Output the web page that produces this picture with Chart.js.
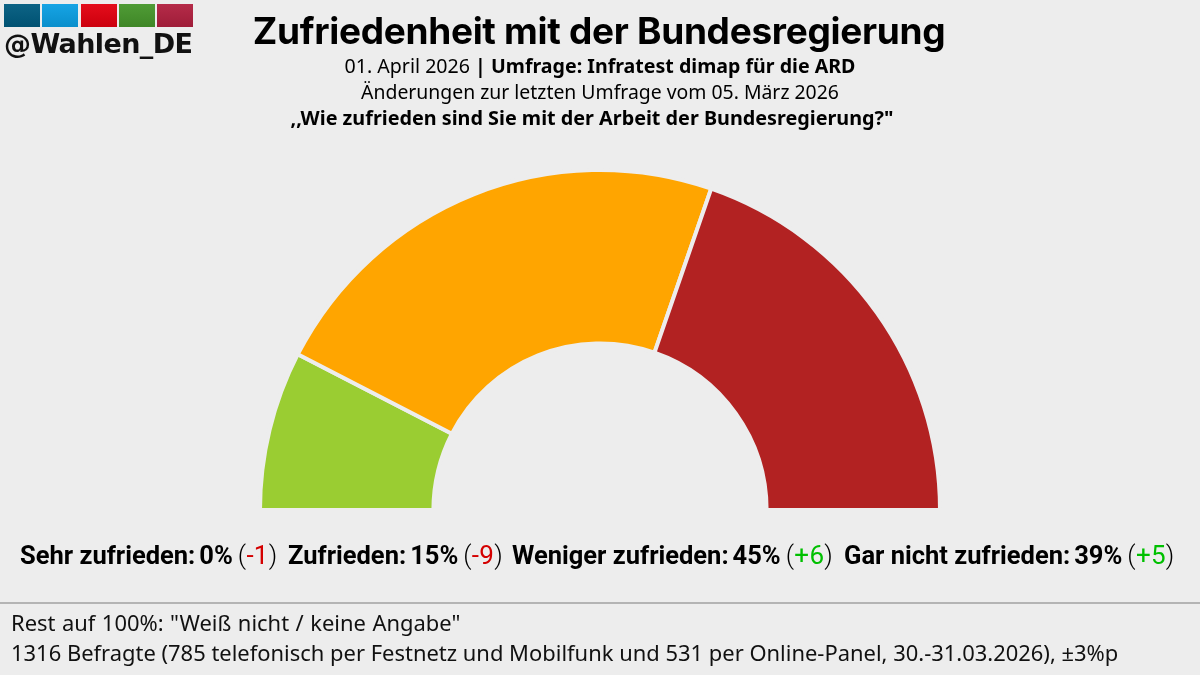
<!DOCTYPE html>
<html lang="de"><head><meta charset="utf-8">
<script src="https://cdn.jsdelivr.net/npm/chart.js@4"></script>
<style>
html,body{margin:0;padding:0;background:#ededed;width:1200px;height:675px;overflow:hidden}
#w{position:relative;width:1200px;height:675px}
canvas{position:absolute;left:0;top:0}
.t{position:absolute;left:0;width:1200px;text-align:center;white-space:nowrap;color:#000}
#title{top:9px;left:-1px;font:700 37px/44px Inter,sans-serif;letter-spacing:-.3px}
.s{font:400 19.6px/26px "Noto Sans",sans-serif}
.s b{font-weight:700}
#logo{position:absolute;left:4px;top:4px;display:flex;gap:2.25px}
#logo i{display:block;width:36px;height:23px;background-image:linear-gradient(rgba(255,255,255,.05),rgba(0,0,0,.1))}
#handle{position:absolute;left:4px;top:29px;font:700 27px/30px "DejaVu Sans",sans-serif;letter-spacing:-.6px;color:#111}
#legend{position:absolute;top:537px;left:20px;font:700 25.5px/36px Roboto,sans-serif;white-space:nowrap;color:#000}
#legend .e{position:absolute;top:0}
#legend .v{margin-left:4px}
#legend .d{font-weight:300;font-size:26px;letter-spacing:.3px;margin-left:5px}
#legend .d span{font-weight:400}
#rule{position:absolute;left:0;top:602px;width:1200px;height:2px;background:#b4b4b4}
#foot{position:absolute;left:11px;top:608px;font:400 21.95px/29.5px "Noto Sans",sans-serif;white-space:nowrap;color:#111}
</style></head><body>
<div id="w">
<canvas id="c" width="1200" height="675"></canvas>
<div id="logo"></div>
<div id="handle">@Wahlen_DE</div>
<div class="t" id="title">Zufriedenheit mit der Bundesregierung</div>
<div class="t s" style="top:53px">01. April 2026 <b>| Umfrage: Infratest dimap für die ARD</b></div>
<div class="t s" style="top:79px;font-size:19.4px">Änderungen zur letzten Umfrage vom 05. März 2026</div>
<div class="t s" style="top:105px;left:-8px;font-size:19.8px"><b>,,Wie zufrieden sind Sie mit der Arbeit der Bundesregierung?"</b></div>
<div id="legend"></div>
<div id="rule"></div>
<div id="foot"><span style="word-spacing:.8px">Rest auf 100%: "Weiß nicht / keine Angabe"</span><br>1316 Befragte (785 telefonisch per Festnetz und Mobilfunk und 531 per Online-Panel, 30.-31.03.2026), ±3%p</div>
</div>
<script>
const categories = ["Sehr zufrieden","Zufrieden","Weniger zufrieden","Gar nicht zufrieden"];
const values = [0,15,45,39];
const changes = [-1,-9,6,5];
const sliceColors = ["#006400","#9acd32","#ffa500","#b22222"];
const logoColors = ["#005b7f","#0a9fe3","#e3000f","#46962b","#b1203f"];
const legendLeft = [0,268,492,824];

document.getElementById('logo').innerHTML = logoColors.map(c=>`<i style="background-color:${c}"></i>`).join('');
document.getElementById('legend').innerHTML = categories.map((n,i)=>{
  const d=changes[i], txt=d>0?'+'+d:''+d, col=d>0?'#00c000':'#d40000';
  return `<span class="e" style="left:${legendLeft[i]}px">${n}:<span class="v">${values[i]}%</span><span class="d">(<span style="color:${col}">${txt}</span>)</span></span>`;
}).join('');

new Chart(document.getElementById('c'),{
  type:'doughnut',
  data:{labels:categories,datasets:[{data:values,backgroundColor:sliceColors,borderColor:'#ededed',borderWidth:4}]},
  options:{
    responsive:false,animation:false,
    rotation:-90,circumference:180,cutout:'49%',
    layout:{padding:{left:258,right:258,top:168,bottom:163}},
    plugins:{legend:{display:false},tooltip:{enabled:false},title:{display:false}}
  }
});
</script>
</body></html>
